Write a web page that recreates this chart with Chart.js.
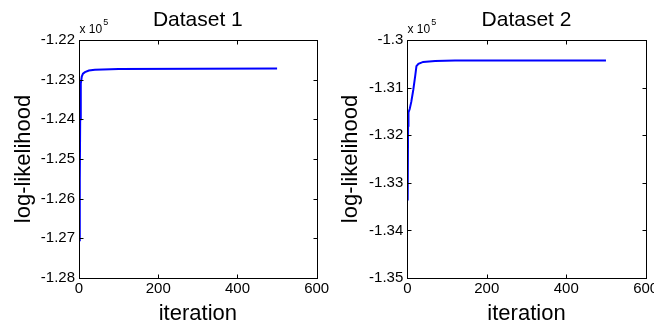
<!DOCTYPE html>
<html>
<head>
<meta charset="utf-8">
<script src="https://cdn.jsdelivr.net/npm/chart.js@4"></script>
<style>
  html, body { margin: 0; padding: 0; background: #fff; }
  #wrap { position: relative; width: 654px; height: 328px; overflow: hidden; }
  canvas { position: absolute; top: 0; }
</style>
</head>
<body>
<div id="wrap">
  <canvas id="chart1" width="340" height="328" style="left:0"></canvas>
  <canvas id="chart2" width="327" height="328" style="left:327px"></canvas>
</div>
<script>
// values are in units of 10^5
const iter1 = [1, 2, 3, 4, 5, 7, 10, 15, 25, 40, 100, 500];
const logLik1 = [-1.2705, -1.2555, -1.2400, -1.2340, -1.2310, -1.2292, -1.2285, -1.2281, -1.2277, -1.2275, -1.2273, -1.2272];

const iter2 = [1, 2, 3, 6, 10, 15, 20, 23, 28, 40, 70, 120, 500];
const logLik2 = [-1.3337, -1.3180, -1.3152, -1.3145, -1.3130, -1.3105, -1.3075, -1.3055, -1.3050, -1.3046, -1.3044, -1.3043, -1.3043];

const titles = ["Dataset 1", "Dataset 2"];
const yRange1 = [-1.28, -1.22];
const yRange2 = [-1.35, -1.30];
const xRange = [0, 600];

const FONT = "'Liberation Sans', Arial, sans-serif";
Chart.defaults.font.family = FONT;
Chart.defaults.color = "#000";

// MATLAB style box with inward ticks, the title over the axes and the "x 10^5" multiplier
const matlabBox = {
    id: "matlabBox",
    afterDraw(chart, args, opts) {
        let ctx = chart.ctx;
        let a = chart.chartArea;
        let xs = chart.scales.x, ys = chart.scales.y;
        let L = Math.round(a.left) + 0.5, R = Math.round(a.right) + 0.5;
        let T = Math.round(a.top) + 0.5, B = Math.round(a.bottom) + 0.5;
        ctx.save();
        ctx.strokeStyle = "#000";
        ctx.lineWidth = 1;
        ctx.strokeRect(L, T, R - L, B - T);
        ctx.beginPath();
        xs.ticks.forEach(t => {
            let px = Math.round(xs.getPixelForValue(t.value)) + 0.5;
            ctx.moveTo(px, B); ctx.lineTo(px, B - 4);
            ctx.moveTo(px, T); ctx.lineTo(px, T + 4);
        });
        ys.ticks.forEach(t => {
            let py = Math.round(ys.getPixelForValue(t.value)) + 0.5;
            ctx.moveTo(L, py); ctx.lineTo(L + 4, py);
            ctx.moveTo(R, py); ctx.lineTo(R - 4, py);
        });
        ctx.stroke();

        ctx.fillStyle = "#000";
        ctx.textBaseline = "alphabetic";
        ctx.textAlign = "center";
        ctx.font = "21px " + FONT;
        ctx.fillText(opts.text, (a.left + a.right) / 2, 26);

        ctx.textAlign = "left";
        ctx.font = "12px " + FONT;
        ctx.fillText("x 10", L, T - 8);
        let w = ctx.measureText("x 10").width;
        ctx.font = "9px " + FONT;
        ctx.fillText("5", L + w + 1, T - 16);
        ctx.restore();
    }
};

function makeChart(id, title, xs, ys, yRange, yWidth, padRight) {
    let ctx = document.getElementById(id).getContext("2d");
    return new Chart(ctx, {
        type: "line",
        data: {
            datasets: [{
                data: xs.map((x, i) => ({ x: x, y: ys[i] })),
                borderColor: "#0000ff",
                borderWidth: 2,
                pointRadius: 0,
                tension: 0,
                fill: false
            }]
        },
        plugins: [matlabBox],
        options: {
            responsive: false,
            animation: false,
            events: [],
            layout: { padding: { left: 0, right: padRight, top: 40, bottom: 0 } },
            plugins: {
                legend: { display: false },
                tooltip: { enabled: false },
                title: { display: false },
                matlabBox: { text: title }
            },
            scales: {
                x: {
                    type: "linear",
                    min: xRange[0],
                    max: xRange[1],
                    grid: { display: false, drawTicks: false },
                    border: { display: false },
                    ticks: {
                        stepSize: 200,
                        padding: 2,
                        maxRotation: 0,
                        font: { size: 15 },
                        color: "#000"
                    },
                    title: {
                        display: true,
                        text: "iteration",
                        color: "#000",
                        font: { size: 22 },
                        padding: { top: 0, bottom: 1 }
                    },
                    afterFit: s => {
                        s.height = 50;
                        s.paddingLeft = 0;
                        s.paddingRight = 0;
                    }
                },
                y: {
                    min: yRange[0],
                    max: yRange[1],
                    grid: { display: false, drawTicks: false },
                    border: { display: false },
                    ticks: {
                        stepSize: 0.01,
                        padding: 4,
                        font: { size: 15 },
                        color: "#000",
                        callback: v => String(Number(v.toFixed(2)))
                    },
                    title: {
                        display: true,
                        text: "log-likelihood",
                        color: "#000",
                        font: { size: 22 },
                        padding: { top: 11, bottom: 0 }
                    },
                    afterFit: s => {
                        s.width = yWidth;
                        s.paddingTop = 0;
                        s.paddingBottom = 0;
                    }
                }
            }
        }
    });
}

makeChart("chart1", titles[0], iter1, logLik1, yRange1, 79, 23.3);
makeChart("chart2", titles[1], iter2, logLik2, yRange2, 80.3, 8.3);
</script>
</body>
</html>
